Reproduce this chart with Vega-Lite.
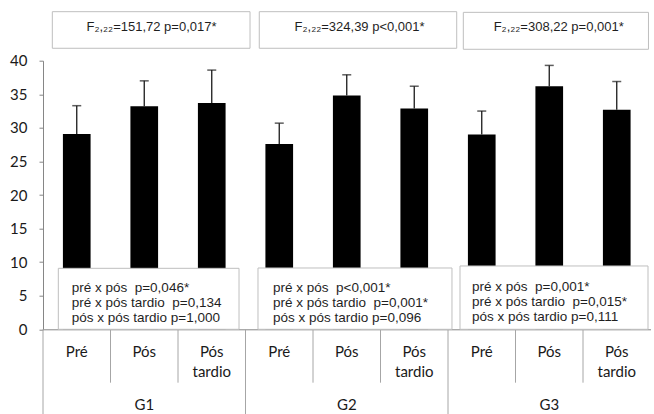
{
  "$schema": "https://vega.github.io/schema/vega-lite/v6.json",
  "width": 607.5,
  "height": 268.6,
  "autosize": {"type": "none"},
  "padding": {"left": 43, "top": 60.7, "right": 3.5, "bottom": 84.7},
  "background": "white",
  "config": {"view": {"stroke": null}, "font": "Lato"},
  "datasets": {
    "bars": [
      {"grupo": "G1", "momento": "Pré", "cat": "G1 Pré", "media": 29.1, "sup": 33.3, "l1": "Pré", "l2": ""},
      {"grupo": "G1", "momento": "Pós", "cat": "G1 Pós", "media": 33.2, "sup": 37.0, "l1": "Pós", "l2": ""},
      {"grupo": "G1", "momento": "Pós tardio", "cat": "G1 Pós tardio", "media": 33.7, "sup": 38.6, "l1": "Pós", "l2": "tardio"},
      {"grupo": "G2", "momento": "Pré", "cat": "G2 Pré", "media": 27.6, "sup": 30.7, "l1": "Pré", "l2": ""},
      {"grupo": "G2", "momento": "Pós", "cat": "G2 Pós", "media": 34.8, "sup": 37.9, "l1": "Pós", "l2": ""},
      {"grupo": "G2", "momento": "Pós tardio", "cat": "G2 Pós tardio", "media": 32.9, "sup": 36.2, "l1": "Pós", "l2": "tardio"},
      {"grupo": "G3", "momento": "Pré", "cat": "G3 Pré", "media": 29.0, "sup": 32.5, "l1": "Pré", "l2": ""},
      {"grupo": "G3", "momento": "Pós", "cat": "G3 Pós", "media": 36.2, "sup": 39.3, "l1": "Pós", "l2": ""},
      {"grupo": "G3", "momento": "Pós tardio", "cat": "G3 Pós tardio", "media": 32.7, "sup": 36.9, "l1": "Pós", "l2": "tardio"}
    ],
    "boxes": [
      {"x0": 0.138, "x1": 3.067, "y0": 41.85, "y1": 47.3},
      {"x0": 3.204, "x1": 6.129, "y0": 41.85, "y1": 47.3},
      {"x0": 6.227, "x1": 8.97, "y0": 41.7, "y1": 47.2},
      {"x0": 0.227, "x1": 2.904, "y0": 0, "y1": 9.08},
      {"x0": 3.185, "x1": 6.059, "y0": 0, "y1": 9.13},
      {"x0": 6.178, "x1": 8.963, "y0": 0, "y1": 9.43}
    ],
    "tops": [
      {"tx": 1.607, "ty": 45.06, "t": "F₂,₂₂=151,72 p=0,017*"},
      {"tx": 4.69, "ty": 45.06, "t": "F₂,₂₂=324,39 p<0,001*"},
      {"tx": 7.64, "ty": 44.95, "t": "F₂,₂₂=308,22 p=0,001*"}
    ],
    "lows": [
      {"tx": 0.425, "ty": 6.12, "t": ["pré x pós\u00a0 p=0,046*", "pré x pós tardio\u00a0 p=0,134", "pós x pós tardio p=1,000"]},
      {"tx": 3.407, "ty": 6.12, "t": ["pré x pós\u00a0 p<0,001*", "pré x pós tardio\u00a0 p=0,001*", "pós x pós tardio p=0,096"]},
      {"tx": 6.356, "ty": 6.27, "t": ["pré x pós\u00a0 p=0,001*", "pré x pós tardio\u00a0 p=0,015*", "pós x pós tardio p=0,111"]}
    ]
  },
  "layer": [
    {
      "data": {"name": "bars"},
      "resolve": {"axis": {"x": "independent", "y": "independent"}},
      "layer": [
        {
          "mark": {"type": "bar", "color": "#000000", "width": {"band": 0.41}},
          "encoding": {
            "x": {"field": "cat", "type": "nominal", "sort": null,
                  "scale": {"paddingInner": 0, "paddingOuter": 0},
                  "axis": {"labels": false, "ticks": false, "title": null, "grid": false, "domainColor": "#868686", "domainWidth": 1}},
            "y": {"field": "media", "type": "quantitative",
                  "scale": {"domain": [0, 40], "nice": false},
                  "axis": {"values": [0, 5, 10, 15, 20, 25, 30, 35, 40], "title": null, "grid": false, "labelOverlap": false,
                           "tickSize": 4, "tickColor": "#868686", "domainColor": "#868686",
                           "labelFont": "Lato", "labelFontSize": 15, "labelColor": "#1a1a1a", "labelPadding": 12}}
          }
        },
        {
          "mark": {"type": "rule", "color": "#1a1a1a", "strokeWidth": 1.3},
          "encoding": {
            "x": {"field": "cat", "type": "nominal", "sort": null, "axis": null},
            "y": {"field": "media", "type": "quantitative", "axis": null},
            "y2": {"field": "sup"}
          }
        },
        {
          "mark": {"type": "tick", "orient": "horizontal", "color": "#1a1a1a", "size": 9, "thickness": 1.5},
          "encoding": {
            "x": {"field": "cat", "type": "nominal", "sort": null, "axis": null},
            "y": {"field": "sup", "type": "quantitative", "axis": null}
          }
        },
        {
          "transform": [{"filter": "datum.momento == 'Pré'"}],
          "mark": {"type": "rule", "color": "#a6a6a6", "strokeWidth": 1},
          "encoding": {
            "x": {"field": "cat", "type": "nominal", "sort": null, "bandPosition": 0, "axis": null},
            "y": {"datum": 0, "axis": null},
            "y2": {"datum": -12.7}
          }
        },
        {
          "transform": [{"filter": "datum.momento != 'Pré'"}],
          "mark": {"type": "rule", "color": "#a6a6a6", "strokeWidth": 1},
          "encoding": {
            "x": {"field": "cat", "type": "nominal", "sort": null, "bandPosition": 0, "axis": null},
            "y": {"datum": 0, "axis": null},
            "y2": {"datum": -7.95}
          }
        },
        {
          "mark": {"type": "text", "font": "Lato", "fontSize": 15, "color": "#1a1a1a", "baseline": "middle"},
          "encoding": {
            "x": {"field": "cat", "type": "nominal", "sort": null, "axis": null},
            "y": {"datum": -3.34, "axis": null},
            "text": {"field": "l1"}
          }
        },
        {
          "transform": [{"filter": "datum.l2 != ''"}],
          "mark": {"type": "text", "font": "Lato", "fontSize": 15, "color": "#1a1a1a", "baseline": "middle"},
          "encoding": {
            "x": {"field": "cat", "type": "nominal", "sort": null, "axis": null},
            "y": {"datum": -6.32, "axis": null},
            "text": {"field": "l2"}
          }
        },
        {
          "transform": [{"filter": "datum.momento == 'Pós'"}],
          "mark": {"type": "text", "font": "Lato", "fontSize": 15, "color": "#1a1a1a", "baseline": "middle"},
          "encoding": {
            "x": {"field": "cat", "type": "nominal", "sort": null, "axis": null},
            "y": {"datum": -11.27, "axis": null},
            "text": {"field": "grupo"}
          }
        }
      ]
    },
    {
      "resolve": {"axis": {"x": "independent", "y": "independent"}},
      "layer": [
        {
          "data": {"name": "boxes"},
          "mark": {"type": "rect", "fill": "#ffffff", "stroke": "#bfbfbf", "strokeWidth": 1},
          "encoding": {
            "x": {"field": "x0", "type": "quantitative", "scale": {"domain": [0, 9], "nice": false, "zero": false}, "axis": null},
            "x2": {"field": "x1"},
            "y": {"field": "y0", "type": "quantitative", "scale": {"domain": [0, 40], "nice": false}, "axis": null},
            "y2": {"field": "y1"}
          }
        },
        {
          "data": {"name": "tops"},
          "mark": {"type": "text", "font": "Liberation Sans", "fontSize": 13, "color": "#1f1f1f", "align": "center", "baseline": "middle"},
          "encoding": {
            "x": {"field": "tx", "type": "quantitative", "scale": {"domain": [0, 9], "nice": false, "zero": false}, "axis": null},
            "y": {"field": "ty", "type": "quantitative", "scale": {"domain": [0, 40], "nice": false}, "axis": null},
            "text": {"field": "t"}
          }
        },
        {
          "data": {"name": "lows"},
          "mark": {"type": "text", "font": "Liberation Sans", "fontSize": 13.5, "color": "#1f1f1f", "align": "left", "baseline": "middle", "lineHeight": 15},
          "encoding": {
            "x": {"field": "tx", "type": "quantitative", "scale": {"domain": [0, 9], "nice": false, "zero": false}, "axis": null},
            "y": {"field": "ty", "type": "quantitative", "scale": {"domain": [0, 40], "nice": false}, "axis": null},
            "text": {"field": "t"}
          }
        }
      ]
    }
  ],
  "resolve": {"scale": {"x": "independent"}, "axis": {"x": "independent", "y": "independent"}}
}
